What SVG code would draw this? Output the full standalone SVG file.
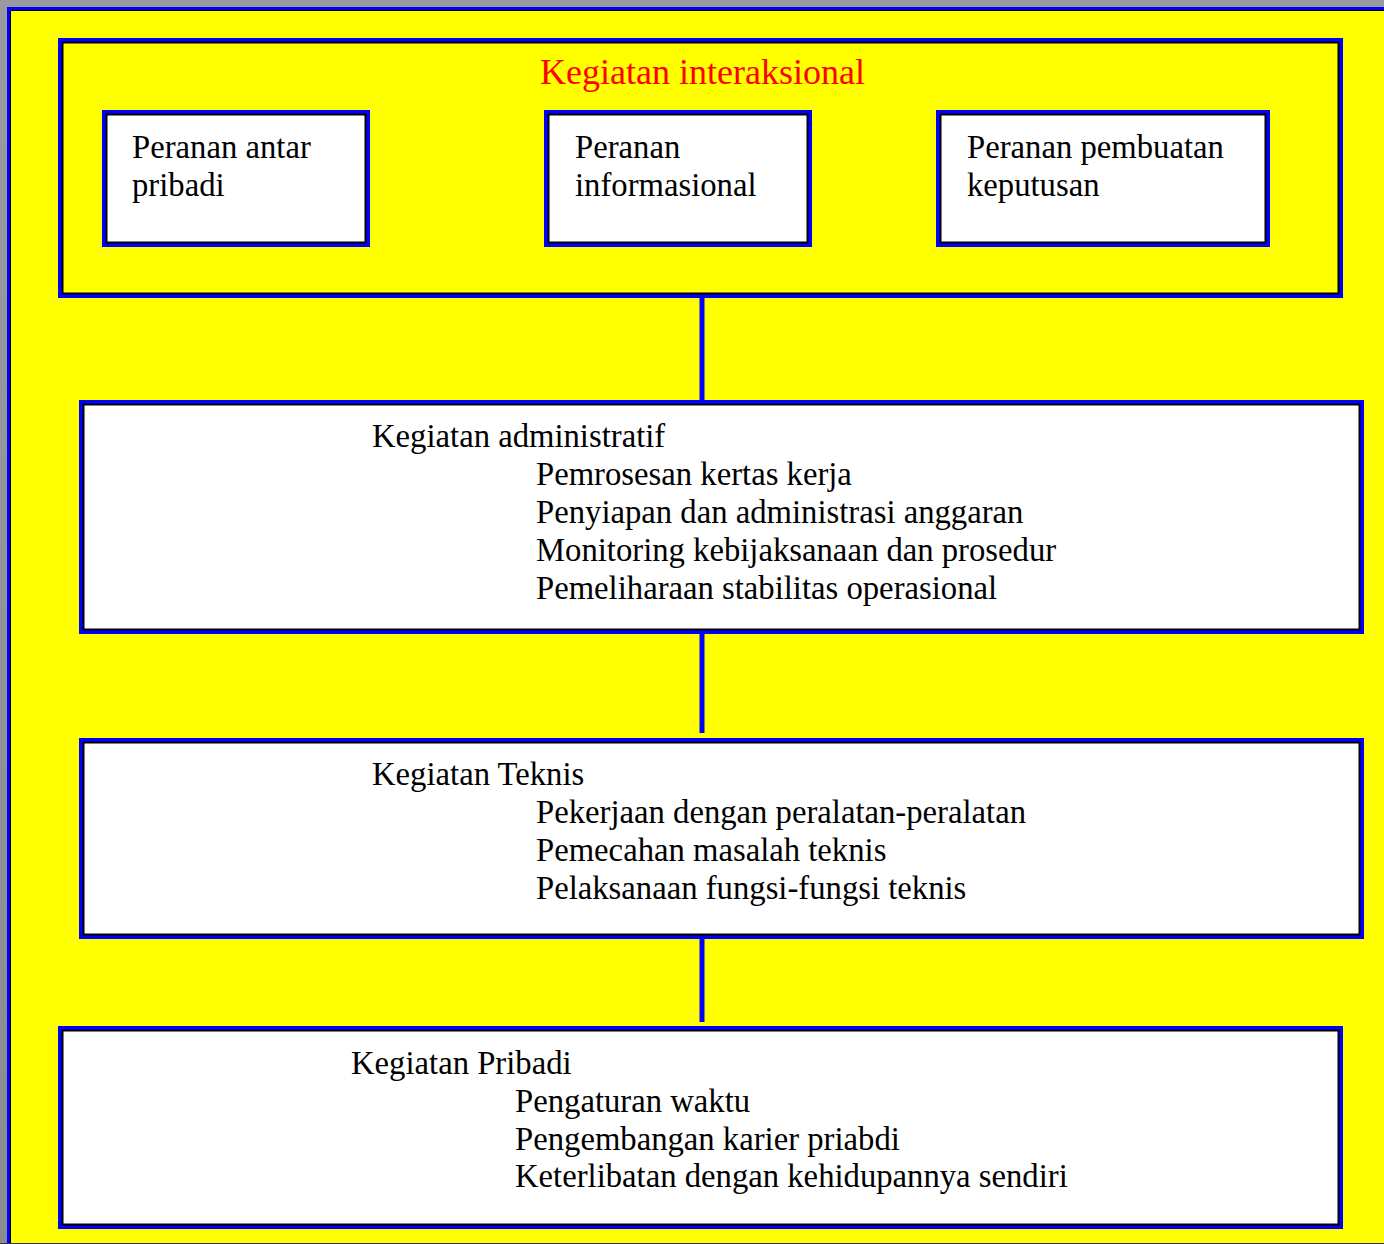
<svg xmlns="http://www.w3.org/2000/svg" width="1384" height="1244" viewBox="0 0 1384 1244">
<defs>
<linearGradient id="bg" x1="0" y1="0" x2="0" y2="1">
<stop offset="0" stop-color="#9a9aa2"/>
<stop offset="1" stop-color="#8a8a90"/>
</linearGradient>
<style>
.outer{stroke:#0000ff;stroke-width:4}
.w{fill:#ffffff}
.y{fill:#ffff00}
.inner{fill:none;stroke:#000000;stroke-width:2}
.t{font-family:"Liberation Serif","Times New Roman",serif;font-size:32.7px;fill:#000}
.title{font-family:"Liberation Serif","Times New Roman",serif;font-size:36px;fill:#ff0000}
.conn{stroke:#0000ff;stroke-width:5;fill:none}
</style>
</defs>
<rect x="0" y="0" width="1384" height="1244" fill="url(#bg)"/>
<rect x="7" y="7" width="1377" height="1237" fill="#ffff00"/>
<path d="M8.5,1244 V8.5 H1384" fill="none" stroke="#0000ff" stroke-width="3"/>
<path d="M10.5,1244 V10.5 H1384" fill="none" stroke="#000" stroke-width="1"/>
<line x1="0" y1="1243.5" x2="1384" y2="1243.5" stroke="#333" stroke-width="1"/>

<g id="connectors">
<line class="conn" x1="702" y1="297" x2="702" y2="402"/>
<line class="conn" x1="702" y1="632" x2="702" y2="733"/>
<line class="conn" x1="702" y1="938" x2="702" y2="1022"/>
</g>

<g id="interaksional">
<rect x="60" y="40" width="1281" height="256" class="outer y"/>
<rect x="62.5" y="42.5" width="1276" height="251" class="inner"/>
<text class="title" x="540" y="84">Kegiatan interaksional</text>
</g>

<g id="antar-pribadi">
<rect x="104" y="112" width="264" height="133" class="outer w"/>
<rect x="106.5" y="114.5" width="259" height="128" class="inner"/>
<text class="t" x="132" y="158">Peranan antar</text>
<text class="t" x="132" y="196">pribadi</text>
</g>

<g id="informasional">
<rect x="546" y="112" width="264" height="133" class="outer w"/>
<rect x="548.5" y="114.5" width="259" height="128" class="inner"/>
<text class="t" x="575" y="158">Peranan</text>
<text class="t" x="575" y="196">informasional</text>
</g>

<g id="pembuatan-keputusan">
<rect x="938" y="112" width="330" height="133" class="outer w"/>
<rect x="940.5" y="114.5" width="325" height="128" class="inner"/>
<text class="t" x="967" y="158">Peranan pembuatan</text>
<text class="t" x="967" y="196">keputusan</text>
</g>

<g id="administratif">
<rect x="81" y="402" width="1281" height="230" class="outer w"/>
<rect x="83.5" y="404.5" width="1276" height="225" class="inner"/>
<text class="t" x="372" y="447">Kegiatan administratif</text>
<text class="t" x="536" y="485">Pemrosesan kertas kerja</text>
<text class="t" x="536" y="523">Penyiapan dan administrasi anggaran</text>
<text class="t" x="536" y="561">Monitoring kebijaksanaan dan prosedur</text>
<text class="t" x="536" y="599">Pemeliharaan stabilitas operasional</text>
</g>

<g id="teknis">
<rect x="81" y="740" width="1281" height="197" class="outer w"/>
<rect x="83.5" y="742.5" width="1276" height="192" class="inner"/>
<text class="t" x="372" y="785">Kegiatan Teknis</text>
<text class="t" x="536" y="823">Pekerjaan dengan peralatan-peralatan</text>
<text class="t" x="536" y="861">Pemecahan masalah teknis</text>
<text class="t" x="536" y="899">Pelaksanaan fungsi-fungsi teknis</text>
</g>

<g id="pribadi">
<rect x="60" y="1028" width="1281" height="199" class="outer w"/>
<rect x="62.5" y="1030.5" width="1276" height="194" class="inner"/>
<text class="t" x="351" y="1074">Kegiatan Pribadi</text>
<text class="t" x="515" y="1112">Pengaturan waktu</text>
<text class="t" x="515" y="1150">Pengembangan karier priabdi</text>
<text class="t" x="515" y="1187">Keterlibatan dengan kehidupannya sendiri</text>
</g>
</svg>
